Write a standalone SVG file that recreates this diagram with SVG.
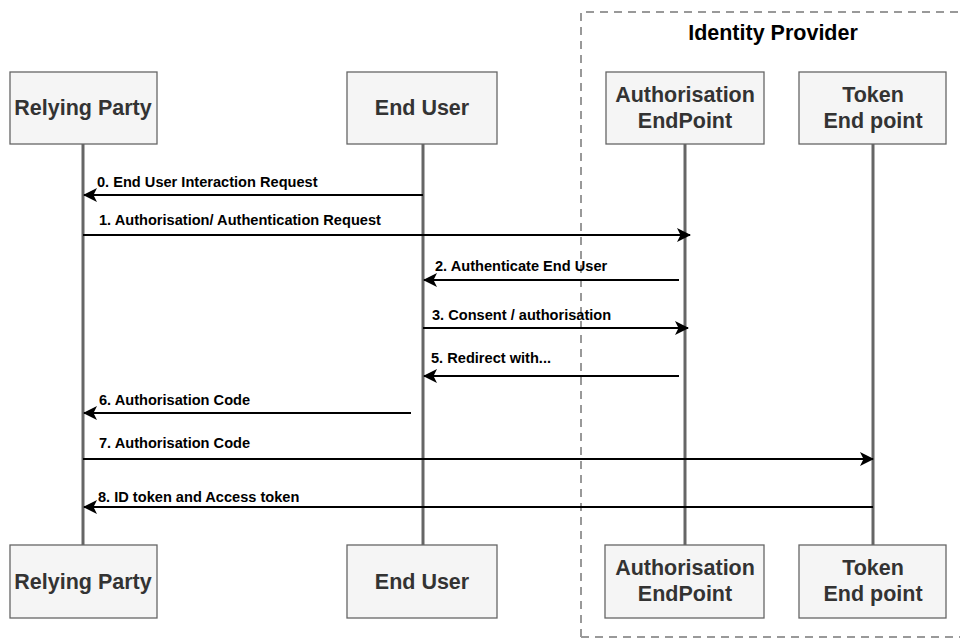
<svg xmlns="http://www.w3.org/2000/svg" width="960" height="641" viewBox="0 0 960 641">
<style>
.box{fill:#f5f5f5;stroke:#666;stroke-width:1.3}
.nt{font-family:"Liberation Sans",Arial,sans-serif;font-weight:bold;font-size:21.5px;fill:#333;text-anchor:middle}
.life{stroke:#666;stroke-width:3;fill:none}
.msg{stroke:#000;stroke-width:2;fill:none}
.lbl{font-family:"Liberation Sans",Arial,sans-serif;font-weight:bold;font-size:14.6px;fill:#000}
.grp{fill:none;stroke:#999;stroke-width:2;stroke-dasharray:8 6}
</style>
<defs>
<marker id="ah" viewBox="0 0 14 14" refX="13" refY="7" markerWidth="14" markerHeight="14" markerUnits="userSpaceOnUse" orient="auto">
<path d="M0,0 L14,7 L0,14 L3.5,7 Z" fill="#000"/>
</marker>
</defs>
<g id="identity-provider">
<path class="grp" d="M581,637 V12 H960 M581,637 H960"/>
<text class="nt" x="773" y="40" style="fill:#000">Identity Provider</text>
</g>
<g id="lifelines">
<line class="life" x1="83" y1="144" x2="83" y2="545"/>
<line class="life" x1="423" y1="144" x2="423" y2="545"/>
<line class="life" x1="685" y1="144" x2="685" y2="545"/>
<line class="life" x1="873" y1="144" x2="873" y2="545"/>
</g>
<g id="relying-party-top"><rect class="box" x="10" y="72" width="147" height="72"/><text class="nt" x="83" y="115">Relying Party</text></g>
<g id="end-user-top"><rect class="box" x="347" y="72" width="150" height="72"/><text class="nt" x="422" y="115">End User</text></g>
<g id="auth-endpoint-top"><rect class="box" x="606" y="72" width="158" height="72"/><text class="nt" x="685" y="102">Authorisation</text><text class="nt" x="685" y="128">EndPoint</text></g>
<g id="token-endpoint-top"><rect class="box" x="799" y="72" width="147" height="72"/><text class="nt" x="873" y="102">Token</text><text class="nt" x="873" y="128">End point</text></g>
<g id="relying-party-bottom"><rect class="box" x="10" y="545" width="147" height="73"/><text class="nt" x="83" y="589">Relying Party</text></g>
<g id="end-user-bottom"><rect class="box" x="347" y="545" width="150" height="73"/><text class="nt" x="422" y="589">End User</text></g>
<g id="auth-endpoint-bottom"><rect class="box" x="605" y="545" width="159" height="73"/><text class="nt" x="685" y="575">Authorisation</text><text class="nt" x="685" y="601">EndPoint</text></g>
<g id="token-endpoint-bottom"><rect class="box" x="799" y="545" width="147" height="73"/><text class="nt" x="873" y="575">Token</text><text class="nt" x="873" y="601">End point</text></g>
<g id="connectors">
<line class="msg" x1="423" y1="195" x2="84" y2="195" marker-end="url(#ah)"/>
<text class="lbl" x="97" y="187">0. End User Interaction Request</text>
<line class="msg" x1="83" y1="235" x2="690" y2="235" marker-end="url(#ah)"/>
<text class="lbl" x="99" y="225">1. Authorisation/ Authentication Request</text>
<line class="msg" x1="679" y1="280" x2="424" y2="280" marker-end="url(#ah)"/>
<text class="lbl" x="435" y="271">2. Authenticate End User</text>
<line class="msg" x1="423" y1="328" x2="688" y2="328" marker-end="url(#ah)"/>
<text class="lbl" x="432" y="320">3. Consent / authorisation</text>
<line class="msg" x1="679" y1="376" x2="424" y2="376" marker-end="url(#ah)"/>
<text class="lbl" x="431" y="363">5. Redirect with...</text>
<line class="msg" x1="411" y1="413" x2="84" y2="413" marker-end="url(#ah)"/>
<text class="lbl" x="99" y="405">6. Authorisation Code</text>
<line class="msg" x1="83" y1="459" x2="873" y2="459" marker-end="url(#ah)"/>
<text class="lbl" x="99" y="448">7. Authorisation Code</text>
<line class="msg" x1="873" y1="507" x2="84" y2="507" marker-end="url(#ah)"/>
<text class="lbl" x="98" y="502">8. ID token and Access token</text>
</g>
</svg>
